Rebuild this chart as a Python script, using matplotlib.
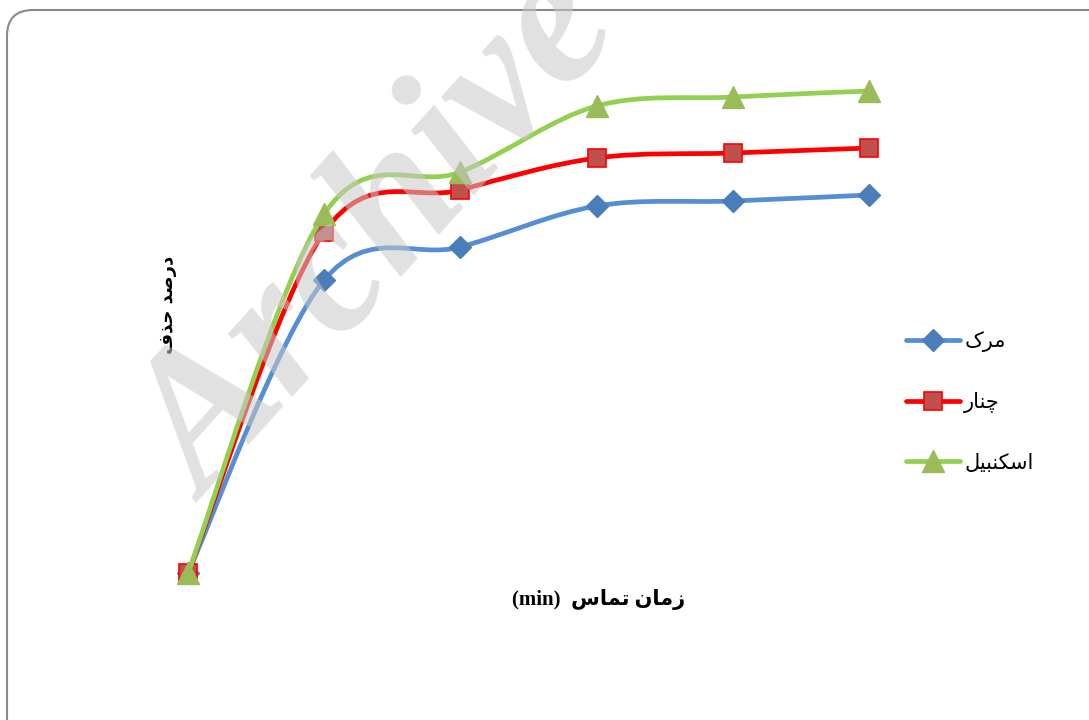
# -*- coding: utf-8 -*-
import matplotlib
matplotlib.use('Agg')
import matplotlib.pyplot as plt
import numpy as np
from matplotlib import font_manager as fm
from matplotlib.path import Path
from matplotlib.patches import PathPatch, FancyBboxPatch
from matplotlib.lines import Line2D
from matplotlib.font_manager import FontProperties

# data (removal %)
contact_time = ['t0', 't1', 't2', 't3', 't4', 't5']
merk = [0.0, 58.6, 65.2, 73.4, 74.4, 75.6]
chenar = [0.0, 68.2, 76.6, 83.0, 84.0, 85.0]
eskanbil = [0.0, 71.8, 80.2, 93.4, 95.2, 96.4]

# Persian labels, written with presentation forms in visual order
lbl_merk = '\uFB8E\uFEAE\uFEE3'                           # مرک
lbl_chenar = '\uFEAD\uFE8E\uFEE8\uFB7C'                   # چنار
lbl_eskanbil = '\uFEDE\uFBFF\uFE92\uFEE8\uFB91\uFEB3\uFE8D'  # اسکنبیل
ylabel_txt = '\uFED1\uFEAC\uFEA3 \uFEAA\uFEBB\uFEAD\uFEA9'   # درصد حذف
xlabel_txt = '(min)  \uFEB1\uFE8E\uFEE4\uFE97 \uFEE5\uFE8E\uFEE3\uFEAF'  # زمان تماس  (min)

W, H = 1089, 720
fig = plt.figure(figsize=(W / 100, H / 100), dpi=100)

# rounded chart border (runs off the right/bottom edge)
frame_ax = fig.add_axes([0, 0, 1, 1])
frame_ax.set_xlim(0, W)
frame_ax.set_ylim(H, 0)
frame_ax.axis('off')
frame_ax.add_patch(FancyBboxPatch((7, 10), 1200, 900,
                                  boxstyle='round,pad=0,rounding_size=26',
                                  facecolor='white', edgecolor='#8a8a8a', linewidth=1.5))

ax = fig.add_axes([188 / W, (H - 573) / H, 681 / W, 500 / H])
ax.set_xlim(0, 5)
ax.set_ylim(0, 100)
ax.axis('off')
ax.patch.set_alpha(0)


def smooth_path(xs, ys):
    pts = np.column_stack([xs, ys]).astype(float)
    n = len(pts)
    verts = [pts[0]]
    codes = [Path.MOVETO]
    for i in range(n - 1):
        p0 = pts[i - 1] if i > 0 else pts[i]
        p1, p2 = pts[i], pts[i + 1]
        p3 = pts[i + 2] if i + 2 < n else pts[i + 1]
        verts += [p1 + (p2 - p0) / 6, p2 - (p3 - p1) / 6, p2]
        codes += [Path.CURVE4] * 3
    return Path(verts, codes)


series = [
    (merk, lbl_merk, '#558ed5', dict(marker='D', ms=11, mfc='#4a7ebb', mec='#4a7ebb')),
    (chenar, lbl_chenar, '#ff0000', dict(marker='s', ms=13.5, mfc='#c0504d', mec='#ff0000', mew=1.2)),
    (eskanbil, lbl_eskanbil, '#92d050', dict(marker='^', ms=16, mfc='#9bbb59', mec='#9bbb59')),
]

x = np.arange(len(contact_time))
handles = []
for k, (vals, lbl, col, mk) in enumerate(series):
    ax.add_patch(PathPatch(smooth_path(x, vals), facecolor='none', edgecolor=col,
                           linewidth=3.4, capstyle='round', clip_on=False, zorder=2 + 2 * k))
    ax.plot(x, vals, linestyle='none', clip_on=False, zorder=3 + 2 * k, **mk)
    handles.append(Line2D([], [], color=col, linewidth=3.4, solid_capstyle='round', **mk))

leg = fig.legend(handles, [lbl_merk, lbl_chenar, lbl_eskanbil],
                 loc='center left', bbox_to_anchor=(906 / W, 1 - 402 / H),
                 bbox_transform=fig.transFigure, frameon=False,
                 prop={'family': 'DejaVu Sans', 'size': 15},
                 handlelength=2.6, handletextpad=0.2, labelspacing=1.9,
                 borderpad=0, borderaxespad=0)

fig.text(168 / W, 1 - 305 / H, ylabel_txt, rotation=90, ha='center', va='center',
         fontsize=13, fontweight='bold', family='DejaVu Sans')
fig.text(599 / W, 1 - 600 / H, xlabel_txt, ha='center', va='center',
         fontsize=15, fontweight='bold', family=['Liberation Serif', 'DejaVu Sans'])


# watermark: pick a bold italic serif file explicitly
def bold_italic_file(names):
    for name in names:
        for f in fm.fontManager.ttflist:
            w = f.weight if isinstance(f.weight, int) else fm.weight_dict.get(f.weight, 400)
            if f.name == name and f.style == 'italic' and w >= 600:
                return f.fname
    return None


wm_file = bold_italic_file(['Liberation Serif', 'DejaVu Serif'])
if wm_file:
    wm_font = FontProperties(fname=wm_file, size=140)
else:
    wm_font = FontProperties(family='serif', style='italic', weight='bold', size=140)
fig.text(382 / W, 1 - 240 / H, 'Archive', rotation=48, rotation_mode='anchor',
         ha='center', va='center', fontproperties=wm_font,
         color='#c8c8c8', alpha=0.55, zorder=20)

fig.savefig('out.png', dpi=100, facecolor='white')
